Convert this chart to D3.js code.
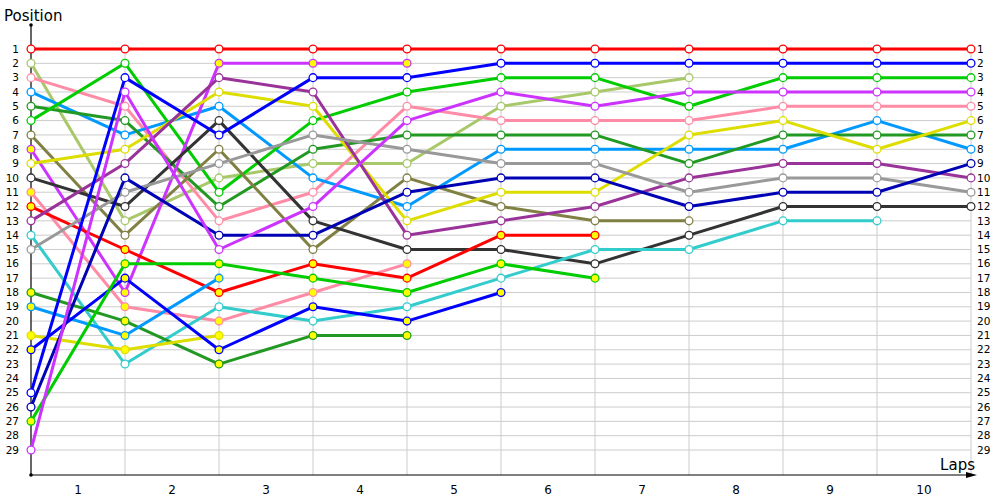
<!DOCTYPE html>
<html>
<head>
<meta charset="utf-8">
<script src="https://cdn.jsdelivr.net/npm/d3@7"></script>
<style>
  html, body { margin: 0; padding: 0; background: #fff; }
  svg { display: block; }
  text { font-family: "DejaVu Sans", Verdana, sans-serif; fill: #000; }
</style>
</head>
<body>
<svg id="chart" width="1000" height="500"></svg>
<script>
// ---- data: position of each car at each lap mark (index 0 = start) ----
const lapLabels = [1, 2, 3, 4, 5, 6, 7, 8, 9, 10];
const positionTicks = d3.range(1, 30);

const redHollow       = [1, 1, 1, 1, 1, 1, 1, 1, 1, 1, 1];
const limeHollow      = [2, 13, 10, 9, 9, 5, 4, 3];
const pinkHollow      = [3, 5, 13, 11, 5, 6, 6, 6, 5, 5, 5];
const skyHollow       = [4, 7, 5, 10, 12, 8, 8, 8, 8, 6, 8];
const forestHollow    = [5, 6, 12, 8, 7, 7, 7, 9, 7, 7, 7];
const greenHollow     = [6, 2, 11, 6, 4, 3, 3, 5, 3, 3, 3];
const oliveHollow     = [7, 14, 8, 15, 10, 12, 13, 13];
const violetFilled    = [8, 18, 2, 2, 2];
const yellowHollow    = [9, 8, 4, 5, 13, 11, 11, 7, 6, 8, 6];
const charcoalHollow  = [10, 12, 6, 13, 15, 15, 16, 14, 12, 12, 12];
const pinkFilled      = [11, 19, 20, 18, 16];
const redFilled       = [12, 15, 18, 16, 17, 14, 14];
const plumHollow      = [13, 9, 3, 4, 14, 13, 12, 10, 9, 9, 10];
const tealHollow      = [14, 23, 19, 20, 19, 17, 15, 15, 13, 13];
const greyHollow      = [15, 11, 9, 7, 8, 9, 9, 11, 10, 10, 11];
const forestFilled    = [18, 20, 23, 21, 21];
const skyFilled       = [19, 21, 17];
const yellowFilled    = [21, 22, 21];
const blueFilled      = [22, 17, 22, 19, 20, 18];
const blueHollow      = [25, 3, 7, 3, 3, 2, 2, 2, 2, 2, 2];
const navyHollow      = [26, 10, 14, 14, 11, 10, 10, 12, 11, 11, 9];
const greenFilled     = [27, 16, 16, 17, 18, 16, 17];
const violetHollow    = [29, 4, 15, 12, 6, 4, 5, 4, 4, 4, 4];

// ---- styles ----
const C = {
  red: "#ff0000", lime: "#a8c86a", pink: "#ff8ca6", sky: "#0099ff",
  forest: "#229922", green: "#00cc00", olive: "#808044", violet: "#cc33ff",
  yellow: "#dddd00", charcoal: "#333333", plum: "#993399", teal: "#33cccc",
  grey: "#999999", blue: "#0000ff", navy: "#0000b4"
};

const series = [
  { v: redHollow, c: C.red, f: false },
  { v: limeHollow, c: C.lime, f: false },
  { v: pinkHollow, c: C.pink, f: false },
  { v: skyHollow, c: C.sky, f: false },
  { v: forestHollow, c: C.forest, f: false },
  { v: greenHollow, c: C.green, f: false },
  { v: oliveHollow, c: C.olive, f: false },
  { v: violetFilled, c: C.violet, f: true },
  { v: yellowHollow, c: C.yellow, f: false },
  { v: charcoalHollow, c: C.charcoal, f: false },
  { v: pinkFilled, c: C.pink, f: true },
  { v: redFilled, c: C.red, f: true },
  { v: plumHollow, c: C.plum, f: false },
  { v: tealHollow, c: C.teal, f: false },
  { v: greyHollow, c: C.grey, f: false },
  { v: forestFilled, c: C.forest, f: true },
  { v: skyFilled, c: C.sky, f: true },
  { v: yellowFilled, c: C.yellow, f: true },
  { v: blueFilled, c: C.blue, f: true },
  { v: blueHollow, c: C.blue, f: false },
  { v: navyHollow, c: C.navy, f: false },
  { v: greenFilled, c: C.green, f: true },
  { v: violetHollow, c: C.violet, f: false }
];

const svg = d3.select("#chart");
const x = d3.scaleLinear().domain([0, 10]).range([31, 971]);
const y = d3.scaleLinear().domain([1, 29]).range([49, 450]);
const axisY = 475;

// grid
const grid = svg.append("g");
grid.selectAll("line.h").data(positionTicks).join("line")
  .attr("x1", x(0)).attr("x2", x(10))
  .attr("y1", d => y(d)).attr("y2", d => y(d))
  .attr("stroke", "#cccccc").attr("stroke-width", 1);
grid.selectAll("line.v").data(d3.range(1, 11)).join("line")
  .attr("x1", d => x(d)).attr("x2", d => x(d))
  .attr("y1", y(1)).attr("y2", axisY)
  .attr("stroke", "#cccccc").attr("stroke-width", 1);

// axes
svg.append("line").attr("x1", x(0)).attr("x2", x(0)).attr("y1", 25).attr("y2", axisY)
  .attr("stroke", "#000").attr("stroke-width", 1.2);
svg.append("circle").attr("cx", x(0)).attr("cy", 25).attr("r", 1.8).attr("fill", "#000");
svg.append("circle").attr("cx", x(0)).attr("cy", axisY).attr("r", 1.8).attr("fill", "#000");
svg.append("line").attr("x1", x(0)).attr("x2", 972).attr("y1", axisY).attr("y2", axisY)
  .attr("stroke", "#000").attr("stroke-width", 1.2);
svg.append("path").attr("d", `M966,${axisY - 3} L977,${axisY} L966,${axisY + 3} Z`).attr("fill", "#000");

// tick labels
svg.append("g").selectAll("text").data(positionTicks).join("text")
  .attr("x", 19).attr("y", d => y(d)).attr("dy", "0.35em")
  .attr("text-anchor", "end").attr("font-size", 10.5).text(d => d);
svg.append("g").selectAll("text").data(positionTicks).join("text")
  .attr("x", 977).attr("y", d => y(d)).attr("dy", "0.35em")
  .attr("text-anchor", "start").attr("font-size", 10.5).text(d => d);
svg.append("g").selectAll("text").data(lapLabels).join("text")
  .attr("x", d => (x(d - 1) + x(d)) / 2).attr("y", 490).attr("dy", "0.35em")
  .attr("text-anchor", "middle").attr("font-size", 12).text(d => d);

svg.append("text").attr("x", 4).attr("y", 21).attr("font-size", 15).text("Position");
svg.append("text").attr("x", 975).attr("y", 470).attr("text-anchor", "end").attr("font-size", 15).text("Laps");

// lines
const line = d3.line().x((d, i) => x(i)).y(d => y(d));
svg.append("g").selectAll("path").data(series).join("path")
  .attr("d", s => line(s.v))
  .attr("fill", "none").attr("stroke", s => s.c).attr("stroke-width", 3)
  .attr("stroke-linejoin", "round");

// markers
const mg = svg.append("g");
series.forEach(s => {
  mg.append("g").selectAll("circle").data(s.v).join("circle")
    .attr("cx", (d, i) => x(i)).attr("cy", d => y(d)).attr("r", 3.9)
    .attr("fill", s.f ? "#ffff00" : "#ffffff")
    .attr("stroke", s.c).attr("stroke-width", 1.3);
});
</script>
</body>
</html>
